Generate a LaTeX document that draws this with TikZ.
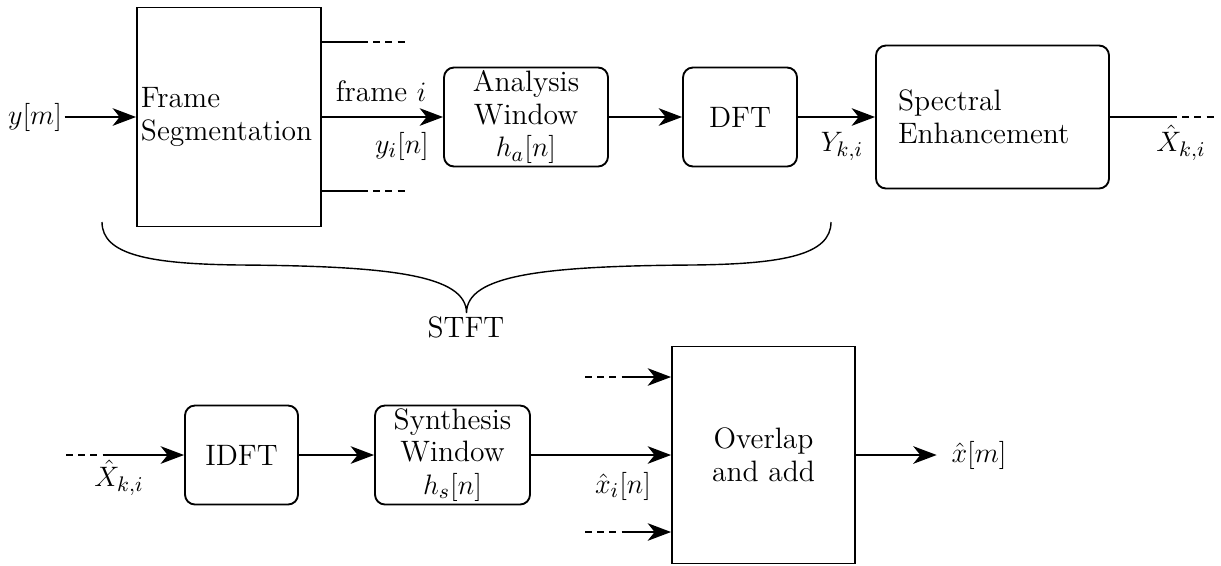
\documentclass[tikz,border=0pt]{standalone}
\usepackage{amsmath,amssymb}
\usepackage{tikz}
\usetikzlibrary{calc,arrows.meta}
\tikzset{
  blockbox/.style={draw, line width=0.8pt, minimum height=1.485cm, inner ysep=1pt, align=center},
  roundbox/.style={blockbox, rounded corners=0.15cm},
  bigbox/.style={draw, line width=0.8pt, align=left},
  wire/.style={draw, line width=0.8pt},
  dashedwire/.style={draw, line width=0.8pt, dash pattern=on 3pt off 2.2pt},
  arr/.style={wire, -{Stealth[length=10pt,width=7.5pt,inset=3pt]}},
  bracecurve/.style={draw, line width=0.6pt},
  lab/.style={inner sep=1pt},
}

\begin{document}
\begin{tikzpicture}[x=0.015cm, y=0.015cm, font=\fontsize{12.6pt}{14pt}\selectfont]
  \useasboundingbox (0,0) rectangle (1221,565);
  % analysis chain
  \node[bigbox, text width=2.64cm, inner xsep=0.06cm, minimum height=3.285cm] (seg) at (229,448) {Frame\\Segmentation};
  \node[roundbox, minimum width=2.46cm] (anw) at (526,448) {Analysis\\Window\\$h_a[n]$};
  \node[roundbox, minimum width=1.71cm] (dft) at (740,448) {DFT};
  \node[bigbox, rounded corners=0.15cm, text width=2.835cm, inner xsep=0.33cm, minimum height=2.145cm] (spe) at (992.5,448) {Spectral\\Enhancement};
  \node[lab] (ym) at (35,448) {$y[m]$};
  \draw[arr] (ym) -- (ym -| seg.west);
  \draw[arr] (seg) -- (anw);
  \node[lab] (fri) at (381,474) {frame $i$};
  \node[lab] (yin) at (402,419) {$y_i[n]$};
  \coordinate (stubA) at (361,523);
  \coordinate (stubAend) at (408,523);
  \coordinate (stubB) at (361,374);
  \coordinate (stubBend) at (405,374);
  \draw[wire] (seg.east |- stubA) -- (stubA);
  \draw[dashedwire] (stubA) -- (stubAend);
  \draw[wire] (seg.east |- stubB) -- (stubB);
  \draw[dashedwire] (stubB) -- (stubBend);
  \draw[arr] (anw) -- (dft);
  \draw[arr] (dft) -- (spe);
  \node[lab] (ykl) at (842,419) {$Y_{k,i}$};
  \coordinate (outA) at (1170,448);
  \coordinate (outB) at (1218,448);
  \draw[wire] (spe) -- (outA);
  \draw[dashedwire] (outA) -- (outB);
  \node[lab] (xkl) at (1181,422) {$\hat{X}_{k,i}$};
  % brace under the analysis part
  \coordinate (brL) at (102,343);
  \coordinate (brML) at (240,300);
  \coordinate (brTip) at (466.5,252);
  \coordinate (brMR) at (693,300);
  \coordinate (brR) at (831,343);
  \draw[bracecurve] (brL) .. controls (102,310) and (150,301) .. (brML)
    .. controls (390,299) and (466.5,290) .. (brTip)
    .. controls (466.5,290) and (543,299) .. (brMR)
    .. controls (783,301) and (831,310) .. (brR);
  \node[lab] (stft) at (466,238) {STFT};
  % synthesis chain
  \node[roundbox, minimum width=1.695cm] (idft) at (241.5,110) {IDFT};
  \node[roundbox, minimum width=2.325cm] (syn) at (452.5,110) {Synthesis\\Window\\$h_s[n]$};
  \node[blockbox, minimum width=2.745cm, minimum height=3.255cm] (ovl) at (763.5,110) {Overlap\\and add};
  \coordinate (inA) at (66,110);
  \coordinate (inB) at (108,110);
  \draw[dashedwire] (inA) -- (inB);
  \draw[arr] (inB) -- (idft);
  \node[lab] (xkb) at (119,87) {$\hat{X}_{k,i}$};
  \draw[arr] (idft) -- (syn);
  \draw[arr] (syn) -- (ovl);
  \node[lab] (xin) at (623,79) {$\hat{x}_i[n]$};
  \coordinate (ovA) at (585,188);
  \coordinate (ovAm) at (622,188);
  \coordinate (ovB) at (585,33);
  \coordinate (ovBm) at (622,33);
  \draw[dashedwire] (ovA) -- (ovAm);
  \draw[arr] (ovAm) -- (ovAm -| ovl.west);
  \draw[dashedwire] (ovB) -- (ovBm);
  \draw[arr] (ovBm) -- (ovBm -| ovl.west);
  \node[lab] (xm) at (979,110) {$\hat{x}[m]$};
  \draw[arr] (ovl) -- ($(xm.west)+(-12,0)$);
\end{tikzpicture}
\end{document}
